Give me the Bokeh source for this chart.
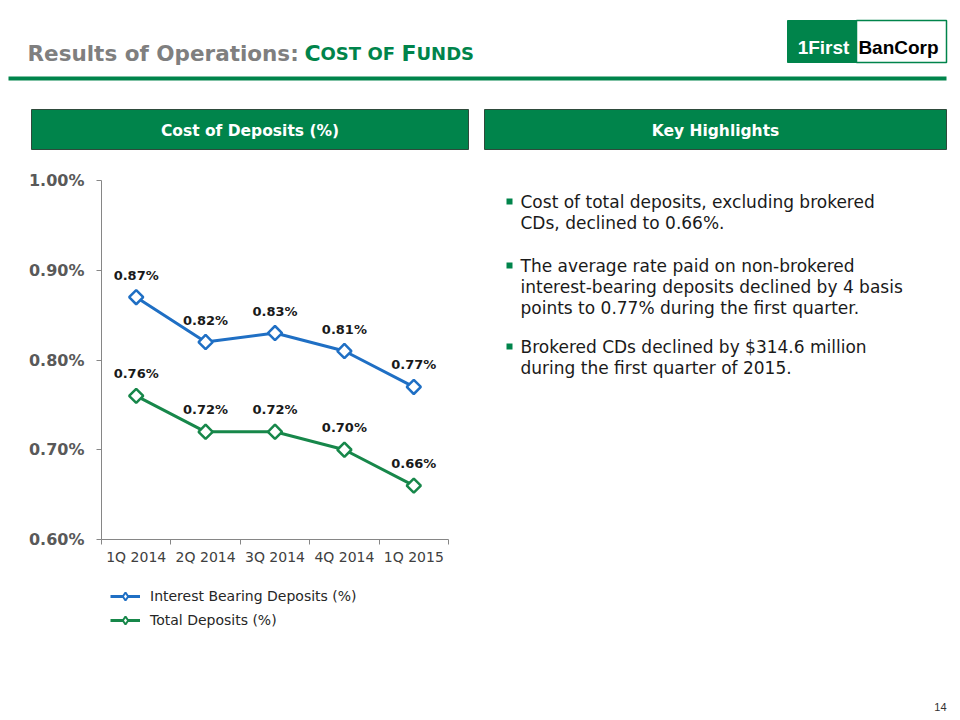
from bokeh.plotting import figure
from bokeh.models import (Range1d, ColumnDataSource, LabelSet, Label, Legend, LegendItem,
                          FixedTicker, PrintfTickFormatter, LinearAxis)
from bokeh.embed import file_html
from bokeh.resources import INLINE
from bokeh.core.properties import value

# ---------------- data ----------------
categories = ["1Q 2014", "2Q 2014", "3Q 2014", "4Q 2014", "1Q 2015"]
interest_bearing = [0.87, 0.82, 0.83, 0.81, 0.77]
total_deposits = [0.76, 0.72, 0.72, 0.70, 0.66]
y_ticks = [0.60, 0.70, 0.80, 0.90, 1.00]
series_names = ["Interest Bearing Deposits (%)", "Total Deposits (%)"]

bullets = [
    ["Cost of total deposits, excluding brokered", "CDs, declined to 0.66%."],
    ["The average rate paid on non-brokered",
     "interest-bearing deposits declined by 4 basis",
     "points to 0.77% during the first quarter."],
    ["Brokered CDs declined by $314.6 million", "during the first quarter of 2015."],
]

GREEN = "#00844B"
BLUE = "#1F6FC4"
LGREEN = "#17874A"
FONT = "DejaVu Sans"

W, H = 960, 720
# chart plot area on the page (pixels)
CH_L, CH_R, CH_T, CH_B = 101, 448, 180, 539

p = figure(width=W, height=H, output_backend="svg", toolbar_location=None,
           x_range=Range1d(0, W), y_range=Range1d(H, 0),
           x_axis_location=None, y_axis_location=None,
           min_border_left=0, min_border_right=0, min_border_top=0, min_border_bottom=0)
p.xgrid.visible = False
p.ygrid.visible = False
p.outline_line_color = None
p.background_fill_color = "white"
p.border_fill_color = "white"

# ---- chart ranges mapped onto the chart area ----
x0, x1 = -0.5, len(categories) - 0.5
xs_per_px = (x1 - x0) / (CH_R - CH_L)
y0, y1 = y_ticks[0], y_ticks[-1]
ys_per_px = (y1 - y0) / (CH_B - CH_T)
p.extra_x_ranges = {"chart": Range1d(x0 - CH_L * xs_per_px, x1 + (W - CH_R) * xs_per_px)}
p.extra_y_ranges = {"chart": Range1d(y0 - (H - CH_B) * ys_per_px, y1 + CH_T * ys_per_px)}

# ---------------- header ----------------
title_parts = [
    ("Results of Operations:", 27, "21.5px", "#7F7F7F"),
    ("C", 304, "22px", GREEN),
    ("OST", 320, "18px", GREEN),
    ("OF", 367, "18px", GREEN),
    ("F", 401, "22px", GREEN),
    ("UNDS", 416, "18px", GREEN),
]
for t, xp, fs, col in title_parts:
    p.add_layout(Label(x=xp, y=53, text=t, text_font=FONT, text_font_style="bold",
                       text_font_size=fs, text_color=col, text_baseline="alphabetic"))

# logo
p.quad(left=[787], right=[856], top=[20], bottom=[62], fill_color=GREEN, line_color=GREEN)
p.quad(left=[856], right=[946], top=[20], bottom=[62], fill_color="white", line_color=GREEN,
       line_width=1.5)
p.add_layout(Label(x=823, y=47, text="1First", text_font="Liberation Sans", text_font_style="bold",
                   text_font_size="19px", text_color="white", text_align="center",
                   text_baseline="alphabetic"))
p.add_layout(Label(x=898, y=47, text="BanCorp", text_font="Liberation Sans", text_font_style="bold",
                   text_font_size="19px", text_color="black", text_align="center",
                   text_baseline="alphabetic"))

# rule
p.quad(left=[8], right=[946], top=[76], bottom=[80], fill_color=GREEN, line_color=None)

# section header boxes
for l, r, t in [(31, 468, "Cost of Deposits (%)"), (484, 946, "Key Highlights")]:
    p.quad(left=[l], right=[r], top=[109], bottom=[149], fill_color=GREEN, line_color="#2E4A3B",
           line_width=1)
    p.add_layout(Label(x=(l + r) / 2, y=130, text=t, text_font=FONT, text_font_style="bold",
                       text_font_size="15.5px", text_color="white", text_align="center",
                       text_baseline="middle"))

# ---------------- chart axes ----------------
yax = LinearAxis(y_range_name="chart", fixed_location=CH_L, bounds=(y0, y1))
yax.ticker = FixedTicker(ticks=y_ticks, minor_ticks=[])
yax.formatter = PrintfTickFormatter(format="%.2f%%")
yax.axis_line_color = "#868686"
yax.major_tick_line_color = "#868686"
yax.major_tick_out = 5
yax.major_tick_in = 0
yax.major_label_text_font = FONT
yax.major_label_text_font_style = "bold"
yax.major_label_text_font_size = "16px"
yax.major_label_text_color = "#595959"
yax.major_label_standoff = 12
p.add_layout(yax, "left")

xs = list(range(len(categories)))
xax = LinearAxis(x_range_name="chart", fixed_location=CH_B, bounds=(x0, x1))
xax.ticker = FixedTicker(ticks=xs, minor_ticks=[i - 0.5 for i in range(len(categories) + 1)])
xax.major_label_overrides = {i: c for i, c in enumerate(categories)}
xax.axis_line_color = "#868686"
xax.major_tick_line_color = None
xax.major_tick_out = 0
xax.major_tick_in = 0
xax.minor_tick_line_color = "#868686"
xax.minor_tick_out = 5
xax.minor_tick_in = 0
xax.major_label_text_font = FONT
xax.major_label_text_font_size = "14px"
xax.major_label_text_color = "#404040"
xax.major_label_standoff = 4
p.add_layout(xax, "below")

# ---------------- series ----------------
items = []
for vals, colr, name in [(interest_bearing, BLUE, series_names[0]),
                         (total_deposits, LGREEN, series_names[1])]:
    src = ColumnDataSource(dict(x=xs, y=vals, lbl=[f"{v:.2f}%" for v in vals]))
    lr = p.line("x", "y", source=src, line_color=colr, line_width=3,
                x_range_name="chart", y_range_name="chart")
    p.scatter("x", "y", source=src, marker="square", angle=0.785398, size=10,
              fill_color="white", line_color=colr, line_width=2.5,
              x_range_name="chart", y_range_name="chart")
    # legend-only diamond (not drawn on the chart)
    lm = p.scatter("x", "y", source=src, marker="diamond", size=12,
                   fill_color="white", line_color=colr, line_width=2,
                   x_range_name="chart", y_range_name="chart", visible=False)
    p.add_layout(LabelSet(x="x", y="y", text="lbl", source=src, y_offset=22,
                          x_range_name="chart", y_range_name="chart",
                          text_align="center", text_baseline="middle",
                          text_font=value(FONT), text_font_style="bold",
                          text_font_size="13px", text_color="#1a1a1a"))
    items.append(LegendItem(label=name, renderers=[lr, lm]))

legend = Legend(items=items, location=(110, 90), orientation="vertical",
                label_text_font=FONT, label_text_font_size="14px", label_text_color="#262626",
                glyph_width=30, glyph_height=20, label_height=20, spacing=4,
                label_standoff=10, padding=5, margin=0,
                border_line_color=None, background_fill_alpha=0)
p.add_layout(legend)

# ---------------- right text panel ----------------
line_y = [[201, 222], [265, 286, 307], [346, 367]]
for para, ys in zip(bullets, line_y):
    p.scatter([509], [ys[0]], marker="square", size=6, fill_color=GREEN, line_color=None)
    for s, yv in zip(para, ys):
        p.add_layout(Label(x=520, y=yv, text=s, text_font=FONT, text_font_size="17px",
                           text_color="#1a1a1a", text_baseline="middle"))
p.add_layout(Label(x=946, y=706, text="14", text_font="Liberation Sans", text_font_size="11px",
                   text_color="#333333", text_align="right", text_baseline="middle"))

open("out.html", "w").write(file_html(p, INLINE))
